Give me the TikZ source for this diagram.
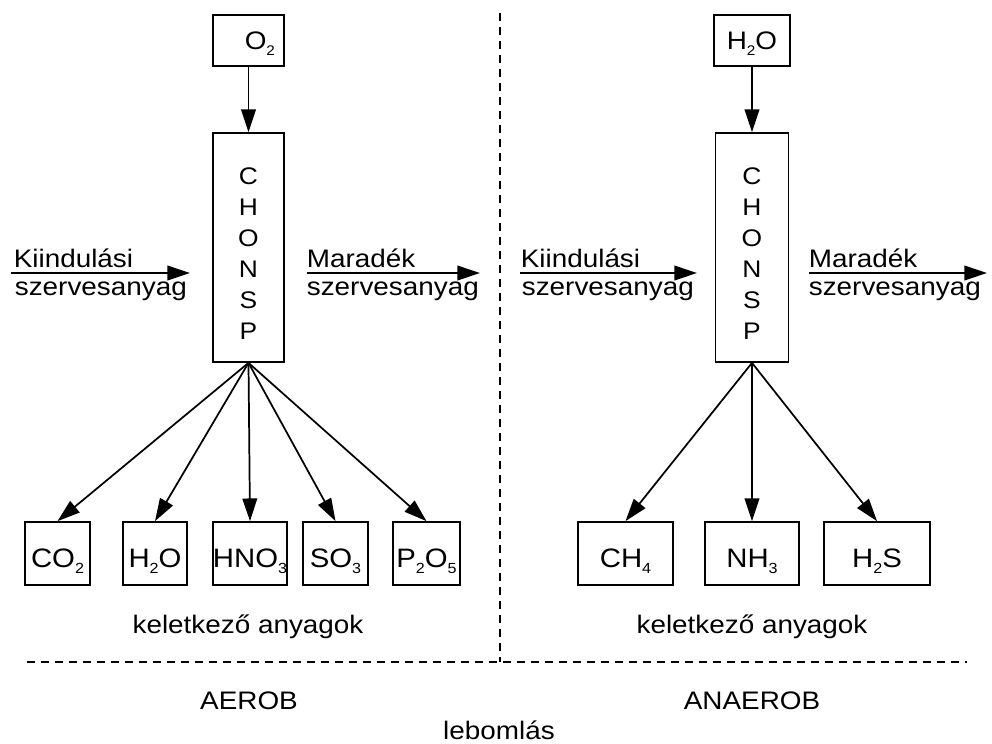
\documentclass[tikz,border=0pt]{standalone}
\usepackage{fontspec}
\setmainfont{Liberation Sans}[FakeStretch=1.1]
\usetikzlibrary{arrows.meta}
\newcommand{\chsub}[1]{\raisebox{-0.24em}{\fontsize{0.55em}{0.6em}\selectfont #1}}
\tikzset{every picture/.style={line width=1.3pt},
  srcbox/.style={draw, inner sep=0pt, minimum height=38.25pt, text height=13.9pt, text depth=0pt, font=\fontsize{19}{23}\selectfont},
  cellbox/.style={draw, inner sep=0pt, minimum height=171.75pt},
  letters/.style={inner sep=0pt, align=center, font=\fontsize{18}{23.25}\selectfont},
  prodbox/.style={draw, inner sep=0pt, minimum height=47.25pt, text height=21pt, text depth=0pt, font=\fontsize{20}{24}\selectfont},
  lbl/.style={inner sep=0pt, font=\fontsize{19}{23}\selectfont},
  flow/.style={-{Triangle[length=17pt,width=11pt]}},
  divider/.style={dash pattern=on 6pt off 4.5pt}}
\begin{document}
\begin{tikzpicture}[x=0.75pt,y=0.75pt,yscale=-1,xscale=1]
\path[use as bounding box] (0,0) rectangle (992,743);

%Dashed dividers
\draw [divider] (500,13) -- (500,662) ;
\draw [divider] (27,662) -- (967,662) ;

%Shape: Rectangle (aerob)
\node (o2L) [srcbox, minimum width=53.25pt, text width=39.75pt, align=right] at (248.5,40.5) {O\chsub{2}};
\node (chonspL) [cellbox, minimum width=53.25pt] at (248.5,247.5) {};
\node (lettersL) [letters] at (248.5,253.5) {C\\H\\O\\N\\S\\P};
\node (co2L) [prodbox, minimum width=48.75pt] at (57.5,553.5) {CO\chsub{2}};
\node (h2oL) [prodbox, minimum width=48pt] at (155,553.5) {H\chsub{2}O};
\node (hno3L) [prodbox, minimum width=55.5pt] at (250,553.5) {HNO\chsub{3}};
\node (so3L) [prodbox, minimum width=48.75pt] at (335.5,553.5) {SO\chsub{3}};
\node (p2o5L) [prodbox, minimum width=50.25pt] at (426.5,553.5) {P\chsub{2}O\chsub{5}};

%Shape: Rectangle (anaerob)
\node (h2oT) [srcbox, minimum width=57pt] at (752,40.5) {H\chsub{2}O};
\node (chonspR) [cellbox, minimum width=54.75pt] at (752,247.5) {};
\node (lettersR) [letters] at (752,253.5) {C\\H\\O\\N\\S\\P};
\node (ch4R) [prodbox, minimum width=71.25pt] at (625.5,553.5) {CH\chsub{4}};
\node (nh3R) [prodbox, minimum width=70.5pt] at (752,553.5) {NH\chsub{3}};
\node (h2sR) [prodbox, minimum width=79.5pt] at (877,553.5) {H\chsub{2}S};

% Text Node
\node (kiindL) [lbl, anchor=base west] at (13,267) {Kiindulási};
\node (szervL) [lbl, anchor=base west] at (14,295) {szervesanyag};
\node (maradL) [lbl, anchor=base west] at (306,267) {Maradék};
\node (szervML) [lbl, anchor=base west] at (306,295) {szervesanyag};
\node (kiindR) [lbl, anchor=base west] at (520,267) {Kiindulási};
\node (szervR) [lbl, anchor=base west] at (521,295) {szervesanyag};
\node (maradR) [lbl, anchor=base west] at (808,267) {Maradék};
\node (szervMR) [lbl, anchor=base west] at (808,295) {szervesanyag};
\node (keletL) [lbl, anchor=base] at (248,633) {keletkező anyagok};
\node (keletR) [lbl, anchor=base] at (752,633) {keletkező anyagok};
\node (aerob) [lbl, anchor=base] at (249,709) {AEROB};
\node (anaerob) [lbl, anchor=base] at (752,709) {ANAEROB};
\node (lebom) [lbl, anchor=base] at (499,739) {lebomlás};

%Straight Lines
\coordinate (inL0) at (11,273);
\coordinate (inL1) at (190,273);
\coordinate (outL0) at (307,273);
\coordinate (outL1) at (480,273);
\coordinate (inR0) at (520,273);
\coordinate (inR1) at (697,273);
\coordinate (outR0) at (809,273);
\coordinate (outR1) at (987,273);
\draw [flow] (inL0) -- (inL1) ;
\draw [flow] (outL0) -- (outL1) ;
\draw [flow] (inR0) -- (inR1) ;
\draw [flow] (outR0) -- (outR1) ;
\draw [flow] (o2L) -- (chonspL) ;
\draw [flow] (h2oT) -- (chonspR) ;
\foreach \p in {co2L,h2oL,hno3L,so3L,p2o5L}
  \draw [flow] (chonspL.south) -- (\p.north) ;
\foreach \p in {ch4R,nh3R,h2sR}
  \draw [flow] (chonspR.south) -- (\p.north) ;

\end{tikzpicture}
\end{document}
